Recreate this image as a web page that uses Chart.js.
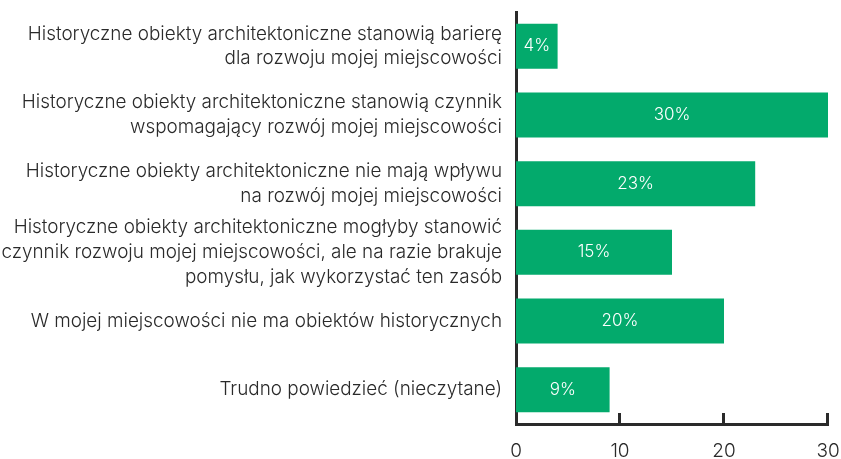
<!DOCTYPE html>
<html>
<head>
<meta charset="utf-8">
<script src="https://cdn.jsdelivr.net/npm/chart.js@4/dist/chart.umd.min.js"></script>
<style>
  html, body { margin: 0; padding: 0; background: #fff; }
  #wrap { width: 841px; height: 459px; position: relative; }
</style>
</head>
<body>
<div id="wrap"><canvas id="chart"></canvas></div>
<script>
  const categories = [
    ['Historyczne obiekty architektoniczne stanowią barierę', 'dla rozwoju mojej miejscowości'],
    ['Historyczne obiekty architektoniczne stanowią czynnik', 'wspomagający rozwój mojej miejscowości'],
    ['Historyczne obiekty architektoniczne nie mają wpływu', 'na rozwój mojej miejscowości'],
    ['Historyczne obiekty architektoniczne mogłyby stanowić', 'czynnik rozwoju mojej miejscowości, ale na razie brakuje', 'pomysłu, jak wykorzystać ten zasób'],
    'W mojej miejscowości nie ma obiektów historycznych',
    'Trudno powiedzieć (nieczytane)'
  ];
  const values = [4, 30, 23, 15, 20, 9];
  const xTicks = [0, 10, 20, 30];

  const green = '#03aa6c';
  const ink = '#2a2a2a';
  const font = 'Inter, "Open Sans", sans-serif';

  // white % labels inside the bars
  const valueLabels = {
    id: 'valueLabels',
    afterDatasetsDraw(chart) {
      const ctx = chart.ctx;
      const meta = chart.getDatasetMeta(0);
      ctx.save();
      ctx.fillStyle = '#fff';
      ctx.font = '300 17px ' + font;
      ctx.textAlign = 'center';
      ctx.textBaseline = 'middle';
      meta.data.forEach((bar, i) => {
        ctx.fillText(values[i] + '%', (bar.x + bar.base) / 2, bar.y);
      });
      ctx.restore();
    }
  };

  // tick marks pointing up from the x axis
  const upTicks = {
    id: 'upTicks',
    afterDraw(chart) {
      const ctx = chart.ctx;
      const xs = chart.scales.x;
      const bottom = chart.chartArea.bottom;
      ctx.save();
      ctx.strokeStyle = ink;
      ctx.lineWidth = 3;
      xTicks.slice(1).forEach(v => {
        const px = Math.round(xs.getPixelForValue(v)) - 0.5;
        ctx.beginPath();
        ctx.moveTo(px, bottom - 11);
        ctx.lineTo(px, bottom);
        ctx.stroke();
      });
      ctx.restore();
    }
  };

  new Chart(document.getElementById('chart'), {
    type: 'bar',
    data: {
      labels: categories,
      datasets: [{
        data: values,
        backgroundColor: green,
        borderWidth: 0,
        barPercentage: 0.655,
        categoryPercentage: 1
      }]
    },
    options: {
      indexAxis: 'y',
      responsive: true,
      maintainAspectRatio: false,
      animation: false,
      layout: { padding: { top: 12, right: 13, left: 0, bottom: 0 } },
      plugins: {
        legend: { display: false },
        tooltip: { enabled: false }
      },
      scales: {
        x: {
          min: 0,
          max: 30,
          afterBuildTicks(scale) {
            scale.ticks = xTicks.map(v => ({ value: v }));
          },
          afterFit(scale) {
            scale.height = 35;
            scale.paddingLeft = 0;
            scale.paddingRight = 0;
          },
          grid: { display: false, drawTicks: false },
          border: { display: true, color: ink, width: 3 },
          ticks: {
            color: ink,
            padding: 16,
            font: { family: font, size: 19, weight: 300 }
          }
        },
        y: {
          afterFit(scale) {
            scale.width = 516;
            scale.paddingTop = 0;
            scale.paddingBottom = 0;
          },
          grid: { display: false, drawTicks: false },
          border: { display: true, color: ink, width: 3 },
          ticks: {
            autoSkip: false,
            color: ink,
            padding: 14,
            font: { family: font, size: 18.9, weight: 300, lineHeight: 1.32 }
          }
        }
      }
    },
    plugins: [valueLabels, upTicks]
  });
</script>
</body>
</html>
